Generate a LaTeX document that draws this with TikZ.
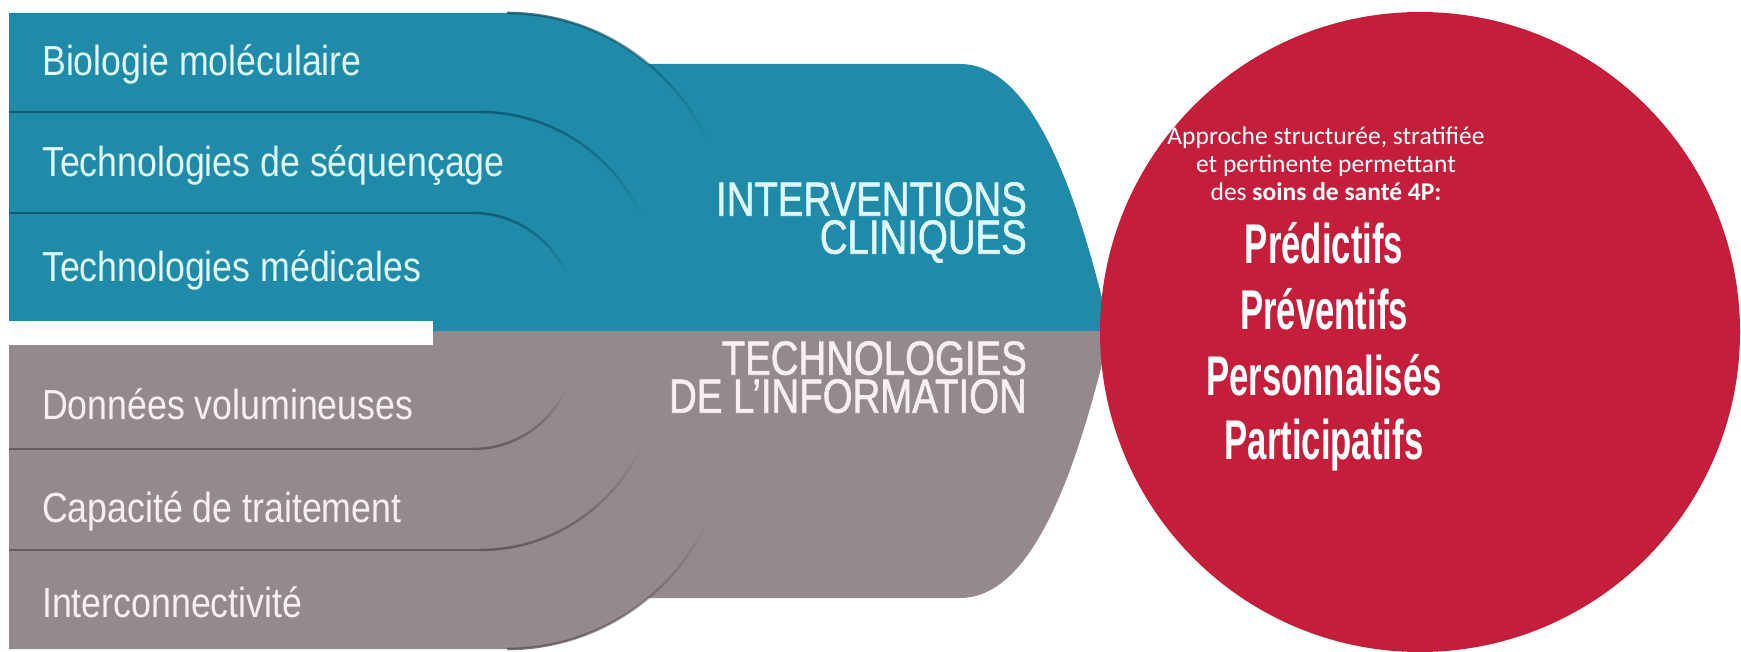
\documentclass[tikz,border=0pt]{standalone}
\usepackage{fontspec}
\usepackage{color}
\usepackage{tikz}
\usetikzlibrary{fadings}
\setmainfont{Liberation Sans}
\newfontfamily\bandfont[FakeStretch=0.85]{Liberation Sans}
\newfontfamily\titlefont[FakeStretch=0.8,FakeBold=1.2]{Liberation Sans}
\newfontfamily\pfont[FakeStretch=0.62,BoldFeatures={FakeStretch=0.62}]{Liberation Sans}
\newfontfamily\soinsfont{Carlito}
\definecolor{cliniq}{RGB}{31,139,168}
\definecolor{cliniqline}{RGB}{14,80,104}
\definecolor{infogris}{RGB}{148,138,141}
\definecolor{infoline}{RGB}{88,80,84}
\definecolor{soinsrouge}{RGB}{196,30,58}
\definecolor{textcyan}{RGB}{222,248,252}
\definecolor{textgris}{RGB}{246,240,242}

\begin{document}
\begin{tikzpicture}[x=1pt,y=1pt,
  bandtext/.style={anchor=base west,inner sep=0pt,font=\bandfont\fontsize{42}{42}\selectfont},
  titletext/.style={anchor=north east,align=right,inner sep=0pt,font=\titlefont\fontsize{48}{38}\selectfont},
  ptext/.style={anchor=base,inner sep=0pt,text=white,font=\pfont\bfseries\fontsize{56}{56}\selectfont},
  bandline/.style={line width=2.5pt,opacity=.8}]
\useasboundingbox (0,-320) rectangle (1741,331);

% interventions cliniques
\fill[cliniq] (433,0) -- (433,267) -- (960,267) .. controls (1030,267) and (1075,150) .. (1110,0) -- cycle;
\foreach \t/\c/\r/\s in {318/507/221/507, 219/480/177/9, 118/473/102/9}{
  \fill[cliniq] (9,0) -- (9,\t) -- (\c,\t) arc[start angle=90,end angle={-asin((\t-\r)/\r)},radius=\r] -- cycle;
  \draw[cliniqline,bandline] (\s,\t) -- (\c,\t);
  \draw[cliniqline,bandline,path fading=south] (\c,\t) arc[start angle=90,end angle=25,radius=\r];
}

% technologies de l'information
\begin{scope}[yscale=-1]
\fill[infogris] (433,0) -- (433,267) -- (960,267) .. controls (1030,267) and (1075,150) .. (1110,0) -- cycle;
\foreach \t/\c/\r/\s in {318/507/221/507, 219/480/177/9, 118/473/102/9}{
  \fill[infogris] (9,0) -- (9,\t) -- (\c,\t) arc[start angle=90,end angle={-asin((\t-\r)/\r)},radius=\r] -- cycle;
  \draw[infoline,bandline] (\s,\t) -- (\c,\t);
  \draw[infoline,bandline,path fading=north] (\c,\t) arc[start angle=90,end angle=25,radius=\r];
}
\end{scope}
\fill[white] (0,-14) rectangle (433,10);

\node[bandtext,text=textcyan] (biologie) at (42,255) {Biologie moléculaire};
\node[bandtext,text=textcyan] (sequencage) at (42,154) {Technologies de séquençage};
\node[bandtext,text=textcyan] (medicales) at (42,50) {Technologies médicales};
\node[bandtext,text=textgris] (donnees) at (42,-88) {Données volumineuses};
\node[bandtext,text=textgris] (traitement) at (42,-191) {Capacité de traitement};
\node[bandtext,text=textgris] (interco) at (42,-286) {Interconnectivité};

\node[titletext,text=textcyan] (cliniques) at (1027,149) {INTERVENTIONS\\CLINIQUES};
\node[titletext,text=textgris] (information) at (1027,-10) {TECHNOLOGIES\\DE L’INFORMATION};

% soins de sante 4P
\node[circle,fill=soinsrouge,inner sep=0pt,minimum size=640pt] (soins) at (1420,-1) {};
\node[text=white,align=center,inner sep=0pt,font=\soinsfont\fontsize{25.5}{28}\selectfont] (approche) at (1326,167)
{Approche structurée, stratifiée\\et pertinente permettant\\des \textbf{soins de santé 4P:}};
\node[ptext] (predictifs) at (1324,67) {Prédictifs};
\node[ptext] (preventifs) at (1324,2) {Préventifs};
\node[ptext] (personnalises) at (1324,-64) {Personnalisés};
\node[ptext] (participatifs) at (1324,-128) {Participatifs};
\end{tikzpicture}
\end{document}
